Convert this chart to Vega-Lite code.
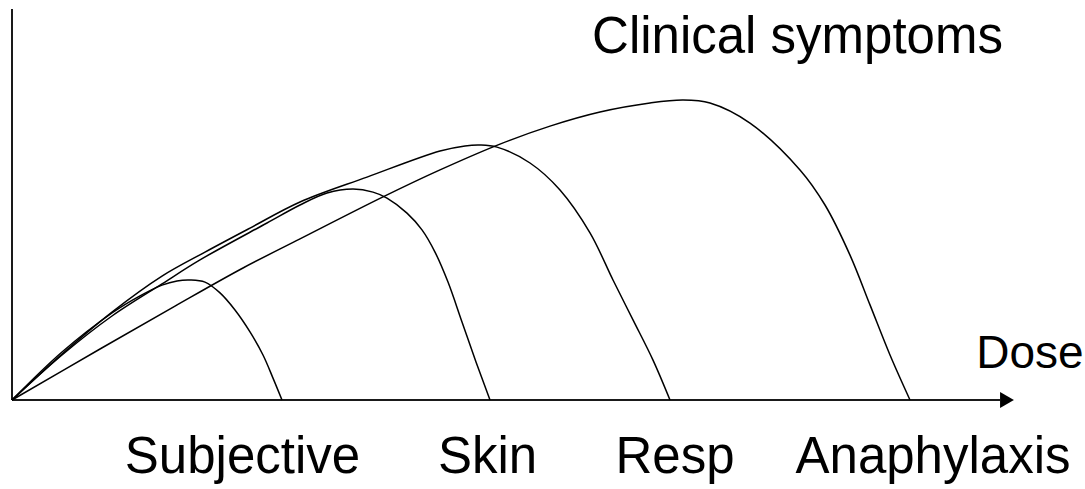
{
  "$schema": "https://vega.github.io/schema/vega-lite/v6.json",
  "width": 1085,
  "height": 489,
  "autosize": {"type": "fit", "contains": "padding"},
  "padding": 0,
  "background": "white",
  "config": {"view": {"stroke": null}},
  "datasets": {
    "curves": [
      {"series": "Subjective", "dose": 0, "level": 0},
      {"series": "Subjective", "dose": 5, "level": 16},
      {"series": "Subjective", "dose": 10, "level": 29},
      {"series": "Subjective", "dose": 12.8, "level": 34.7},
      {"series": "Subjective", "dose": 15, "level": 38.3},
      {"series": "Subjective", "dose": 16.5, "level": 39.7},
      {"series": "Subjective", "dose": 17.8, "level": 40},
      {"series": "Subjective", "dose": 19.3, "level": 39.3},
      {"series": "Subjective", "dose": 20.8, "level": 35.7},
      {"series": "Subjective", "dose": 22.3, "level": 30},
      {"series": "Subjective", "dose": 23.8, "level": 22.7},
      {"series": "Subjective", "dose": 25.1, "level": 15},
      {"series": "Subjective", "dose": 26.1, "level": 7.3},
      {"series": "Subjective", "dose": 27, "level": 0},
      {"series": "Skin", "dose": 0, "level": 0},
      {"series": "Skin", "dose": 5, "level": 15},
      {"series": "Skin", "dose": 10, "level": 28},
      {"series": "Skin", "dose": 15, "level": 38.7},
      {"series": "Skin", "dose": 18.8, "level": 46.7},
      {"series": "Skin", "dose": 25.5, "level": 59},
      {"series": "Skin", "dose": 28.8, "level": 65},
      {"series": "Skin", "dose": 31.5, "level": 69},
      {"series": "Skin", "dose": 34.1, "level": 70.3},
      {"series": "Skin", "dose": 36.1, "level": 69.3},
      {"series": "Skin", "dose": 37.5, "level": 67.3},
      {"series": "Skin", "dose": 39.5, "level": 62.3},
      {"series": "Skin", "dose": 41, "level": 56.7},
      {"series": "Skin", "dose": 42.3, "level": 49.3},
      {"series": "Skin", "dose": 43.6, "level": 39.3},
      {"series": "Skin", "dose": 45, "level": 26},
      {"series": "Skin", "dose": 46.4, "level": 12.7},
      {"series": "Skin", "dose": 47.8, "level": 0},
      {"series": "Resp", "dose": 0, "level": 0},
      {"series": "Resp", "dose": 5, "level": 15.3},
      {"series": "Resp", "dose": 10, "level": 29.3},
      {"series": "Resp", "dose": 15, "level": 41.3},
      {"series": "Resp", "dose": 19.3, "level": 49.3},
      {"series": "Resp", "dose": 23.8, "level": 57.3},
      {"series": "Resp", "dose": 28.8, "level": 66},
      {"series": "Resp", "dose": 35.5, "level": 74.3},
      {"series": "Resp", "dose": 42.8, "level": 83},
      {"series": "Resp", "dose": 45.3, "level": 84.7},
      {"series": "Resp", "dose": 46.8, "level": 85},
      {"series": "Resp", "dose": 48.5, "level": 84.3},
      {"series": "Resp", "dose": 51.8, "level": 79},
      {"series": "Resp", "dose": 54.8, "level": 70},
      {"series": "Resp", "dose": 57.8, "level": 55.7},
      {"series": "Resp", "dose": 60.1, "level": 40},
      {"series": "Resp", "dose": 62.1, "level": 26.7},
      {"series": "Resp", "dose": 64.1, "level": 13.3},
      {"series": "Resp", "dose": 65.8, "level": 0},
      {"series": "Anaphylaxis", "dose": 0, "level": 0},
      {"series": "Anaphylaxis", "dose": 8.8, "level": 17},
      {"series": "Anaphylaxis", "dose": 16.3, "level": 31.3},
      {"series": "Anaphylaxis", "dose": 23.1, "level": 44},
      {"series": "Anaphylaxis", "dose": 28.8, "level": 53.7},
      {"series": "Anaphylaxis", "dose": 37.1, "level": 67.7},
      {"series": "Anaphylaxis", "dose": 42.8, "level": 76.7},
      {"series": "Anaphylaxis", "dose": 48.8, "level": 85.3},
      {"series": "Anaphylaxis", "dose": 53.8, "level": 91.3},
      {"series": "Anaphylaxis", "dose": 58.8, "level": 96},
      {"series": "Anaphylaxis", "dose": 63.8, "level": 99},
      {"series": "Anaphylaxis", "dose": 67.1, "level": 100},
      {"series": "Anaphylaxis", "dose": 69.8, "level": 99},
      {"series": "Anaphylaxis", "dose": 73.8, "level": 92.3},
      {"series": "Anaphylaxis", "dose": 78.8, "level": 76.7},
      {"series": "Anaphylaxis", "dose": 81.3, "level": 65},
      {"series": "Anaphylaxis", "dose": 83.8, "level": 48.3},
      {"series": "Anaphylaxis", "dose": 85.8, "level": 31.7},
      {"series": "Anaphylaxis", "dose": 87.8, "level": 15},
      {"series": "Anaphylaxis", "dose": 89.8, "level": 0}
    ],
    "axes": [
      {"axis": "y", "dose": 0, "level": 0, "dose2": 0, "level2": 130.3},
      {"axis": "x", "dose": 0, "level": 0, "dose2": 98.8, "level2": 0}
    ],
    "arrow": [{"dose": 99.5, "level": 0}],
    "labels": [
      {"role": "category", "text": "Subjective", "dose": 23.05, "level": -24.33},
      {"role": "category", "text": "Skin", "dose": 47.55, "level": -24.33},
      {"role": "category", "text": "Resp", "dose": 66.3, "level": -24.33},
      {"role": "category", "text": "Anaphylaxis", "dose": 92.1, "level": -24.33},
      {"role": "ytitle", "text": "Clinical symptoms", "dose": 78.55, "level": 115.67},
      {"role": "xtitle", "text": "Dose", "dose": 101.8, "level": 10.67}
    ]
  },
  "layer": [
    {
      "data": {"name": "axes"},
      "mark": {"type": "rule", "color": "#1a1a1a", "strokeWidth": 2},
      "encoding": {
        "x": {"field": "dose", "type": "quantitative", "scale": {"domain": [-1.2, 107.3], "nice": false, "zero": false}, "axis": null},
        "y": {"field": "level", "type": "quantitative", "scale": {"domain": [-29.667, 133.333], "nice": false, "zero": false}, "axis": null},
        "x2": {"field": "dose2"},
        "y2": {"field": "level2"}
      }
    },
    {
      "data": {"name": "arrow"},
      "mark": {"type": "point", "shape": "triangle-right", "filled": true, "color": "black", "size": 256, "opacity": 1},
      "encoding": {
        "x": {"field": "dose", "type": "quantitative"},
        "y": {"field": "level", "type": "quantitative"}
      }
    },
    {
      "data": {"name": "curves"},
      "mark": {"type": "line", "interpolate": "catmull-rom", "strokeWidth": 1.5, "color": "black"},
      "encoding": {
        "x": {"field": "dose", "type": "quantitative"},
        "y": {"field": "level", "type": "quantitative"},
        "detail": {"field": "series", "type": "nominal"}
      }
    },
    {
      "data": {"name": "labels"},
      "transform": [{"filter": "datum.role === 'category'"}],
      "mark": {"type": "text", "font": "Liberation Sans", "fontSize": 51, "align": "center", "baseline": "alphabetic", "color": "black"},
      "encoding": {
        "x": {"field": "dose", "type": "quantitative"},
        "y": {"field": "level", "type": "quantitative"},
        "text": {"field": "text"}
      }
    },
    {
      "data": {"name": "labels"},
      "transform": [{"filter": "datum.role === 'ytitle'"}],
      "mark": {"type": "text", "font": "Liberation Sans", "fontSize": 51, "align": "center", "baseline": "alphabetic", "color": "black"},
      "encoding": {
        "x": {"field": "dose", "type": "quantitative"},
        "y": {"field": "level", "type": "quantitative"},
        "text": {"field": "text"}
      }
    },
    {
      "data": {"name": "labels"},
      "transform": [{"filter": "datum.role === 'xtitle'"}],
      "mark": {"type": "text", "font": "Liberation Sans", "fontSize": 46, "align": "center", "baseline": "alphabetic", "color": "black"},
      "encoding": {
        "x": {"field": "dose", "type": "quantitative"},
        "y": {"field": "level", "type": "quantitative"},
        "text": {"field": "text"}
      }
    }
  ]
}
